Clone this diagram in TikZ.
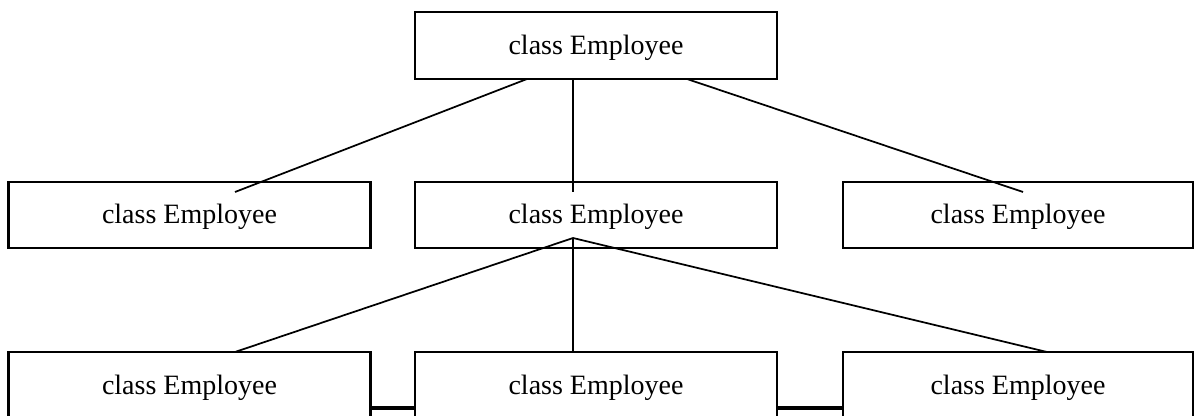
\documentclass[tikz,border=0pt]{standalone}
\usepackage{fontspec}
\setmainfont{Liberation Serif}
\begin{document}
\begin{tikzpicture}[x=0.75pt,y=-0.75pt,
  box/.style={draw, line width=1.7pt, inner sep=0pt, text height=16pt, text depth=2.5pt, font=\fontsize{21}{25}\selectfont},
  wbox/.style={box, minimum width=271.5pt, minimum height=50pt},
  rbox/.style={box, minimum width=262.5pt, minimum height=50pt},
  conn/.style={line width=1.3pt},
  bar/.style={line width=2.8pt}]
\clip (0,0) rectangle (1201,416);
\fill[white] (0,0) rectangle (1201,416);
% boxes
\node[wbox] (top) at (596,45.5) {class Employee};
\node[wbox] (l2) at (189.5,215) {class Employee};
\node[wbox] (m2) at (596,215) {class Employee};
\node[rbox] (r2) at (1018,215) {class Employee};
\node[wbox] (l3) at (189.5,385) {class Employee};
\node[wbox] (m3) at (596,385) {class Employee};
\node[rbox] (r3) at (1018,385) {class Employee};
% connector end points
\coordinate (ta) at (527,79);
\coordinate (tb) at (573,79);
\coordinate (tc) at (687,79);
\coordinate (la) at (235,192);
\coordinate (ma) at (573,192);
\coordinate (ra) at (1023,192);
\coordinate (mb) at (573,238);
\coordinate (l3a) at (235,352);
\coordinate (m3a) at (573,352);
\coordinate (r3a) at (1047,352);
\draw[conn] (ta) -- (la);
\draw[conn] (tb) -- (ma);
\draw[conn] (tc) -- (ra);
\draw[conn] (mb) -- (l3a);
\draw[conn] (mb) -- (m3a);
\draw[conn] (mb) -- (r3a);
% thick bars between bottom boxes
\draw[bar] (l3.east |- 0,408) -- (m3.west |- 0,408);
\draw[bar] (m3.east |- 0,408) -- (r3.west |- 0,408);
\draw[line width=2pt] (7,408) -- (l3.west |- 0,408);
\end{tikzpicture}
\end{document}
